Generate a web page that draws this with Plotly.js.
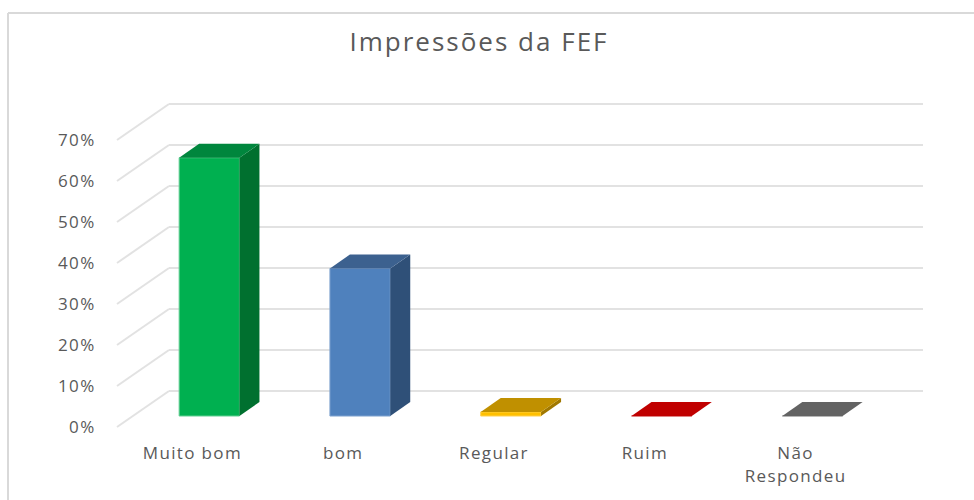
<!DOCTYPE html>
<html><head><meta charset="utf-8">
<script src="https://cdn.plot.ly/plotly-3.0.1.min.js"></script>
<style>html,body{margin:0;padding:0;background:#fff}#c{width:974px;height:500px}
#c .xtick text,#c .ytick text{letter-spacing:1.35px}
#c .gtitle{letter-spacing:2px}
</style>
</head><body><div id="c"></div>
<script>
const categories = ["Muito bom", "bom", "Regular", "Ruim", "Não<br>Respondeu"];
const values = [63, 36, 1, 0, 0];
const yTicks = [0, 10, 20, 30, 40, 50, 60, 70];
const frontColors = ["#00B050", "#4F81BD", "#FFC000", "#C00000", "#636363"];
const topColors = ["#00863D", "#3C618F", "#C09000", "#C00000", "#636363"];
const sideColors = ["#00702F", "#2F5078", "#A07800", "#C00000", "#636363"];
const edgeColors = ["#66D096", "#7FA3CF", "#FFD050", "#D86060", "#A0A0A0"];

// oblique projection, in data units
const wallDx = 0.3448, wallDy = 8.78;   // depth of the floor/wall
const barShiftX = 0.112, barShiftY = 2.68; // where the bar's front face stands
const barDx = 0.1326, barDy = 3.41;     // depth of a bar
const barWidth = 0.4;
const xRange = [-0.5464, 4.878], yRange = [-0.73, 79.76];
const xLeft = -0.5, xRight = 4.5;

const grid = [];
const gl = {color: "#E2E2E2", width: 2};
yTicks.forEach(t => {
  grid.push({type:"line", layer:"below", xref:"x", yref:"y", x0:xLeft, y0:t, x1:xLeft+wallDx, y1:t+wallDy, line:gl});
  grid.push({type:"line", layer:"below", xref:"x", yref:"y", x0:xLeft+wallDx, y0:t+wallDy, x1:xRight+wallDx, y1:t+wallDy, line:gl});
});
const frame = [
  {type:"line", xref:"paper", yref:"paper", x0:-102/818, x1:864/818, y0:417/330, y1:417/330, line:{color:"#D9D9D9", width:2}},
  {type:"line", xref:"paper", yref:"paper", x0:-102/818, x1:-102/818, y0:417/330, y1:-70/330, line:{color:"#D9D9D9", width:2}}
];

const traces = [{
  type:"bar",
  x: values.map((v,i)=>i+barShiftX),
  y: values,
  base: values.map(()=>barShiftY),
  width: barWidth,
  marker:{color:frontColors, line:{color:edgeColors, width:1}},
  hoverinfo:"skip", showlegend:false
}];
values.forEach((v,i)=>{
  const l=i+barShiftX-barWidth/2, r=i+barShiftX+barWidth/2, b=barShiftY, t=barShiftY+v;
  traces.push({type:"scatter", mode:"lines", fill:"toself", fillcolor:sideColors[i], line:{width:0},
    x:[r,r+barDx,r+barDx,r,r], y:[b,b+barDy,t+barDy,t,b], hoverinfo:"skip", showlegend:false});
  traces.push({type:"scatter", mode:"lines", fill:"toself", fillcolor:topColors[i], line:{width:0},
    x:[l,l+barDx,r+barDx,r,l], y:[t,t+barDy,t+barDy,t,t], hoverinfo:"skip", showlegend:false});
});

const txt = {family:"Open Sans, sans-serif", size:17, color:"#595959"};
Plotly.newPlot("c", traces, {
  width:974, height:500,
  margin:{l:110, r:46, t:100, b:70, pad:0},
  paper_bgcolor:"#fff", plot_bgcolor:"rgba(0,0,0,0)",
  showlegend:false,
  title:{text:"Impressões da FEF", x:479/974, xref:"container", xanchor:"center", y:1-42/500, yanchor:"middle",
         font:{family:"Open Sans, sans-serif", size:26, color:"#595959"}},
  xaxis:{range:xRange, showgrid:false, zeroline:false, showline:false, tickmode:"array",
         tickvals:categories.map((c,i)=>i), ticktext:categories, ticks:"outside", ticklen:8,
         tickcolor:"rgba(0,0,0,0)", tickangle:0, tickfont:txt, automargin:false},
  yaxis:{range:yRange, showgrid:false, zeroline:false, showline:false, tickmode:"array",
         tickvals:yTicks, ticktext:yTicks.map(t=>t+"%"), ticks:"outside", ticklen:10,
         tickcolor:"rgba(0,0,0,0)", tickfont:txt, automargin:false},
  shapes:grid.concat(frame)
}, {displayModeBar:false, staticPlot:true});
</script></body></html>
